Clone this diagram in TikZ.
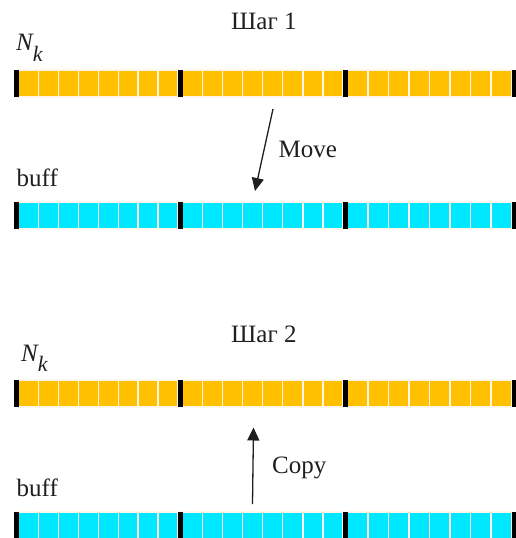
\documentclass[tikz,border=0pt]{standalone}
\usepackage{fontspec}
\setmainfont{Liberation Serif}
\newfontfamily\lserif{Liberation Serif}
\usetikzlibrary{arrows.meta}
\definecolor{barorange}{HTML}{FFC000}
\definecolor{barcyan}{HTML}{00E8FF}
\newcommand\drawcellbar[2]{%
  \foreach \a/\b in {14/178,178/343,343/511.5}{%
    \pgfmathsetmacro\w{(\b-\a-4.5)/8}%
    \foreach \i in {0,...,7}{%
      \filldraw[cellbox, fill=#2] ({\a+4.5+\i*\w},#1) rectangle ++(\w,27);
    }%
    \fill[marker] (\a,#1) rectangle ++(4.5,27);
  }%
  \fill[marker] (511.5,#1) rectangle (516,#1+27);
}
\begin{document}
\begin{tikzpicture}[x=1pt,y=-1pt,
  cellbox/.style={draw=white!92!orange, line width=1.3pt},
  marker/.style={black},
  lbl/.style={font={\lserif\fontsize{25}{25}\selectfont}, inner sep=0pt, anchor=base west, text=black!88},
  conn/.style={line width=1.3pt, black!88, -{Triangle[length=13pt,width=12pt]}}]
\useasboundingbox (0,0) rectangle (516,538);
\drawcellbar{70}{barorange}
\drawcellbar{202}{barcyan}
\drawcellbar{380}{barorange}
\drawcellbar{512}{barcyan}
\node[lbl] (step1) at (231,29.3) {Шаг 1};
\node[lbl] (step2) at (231,342) {Шаг 2};
\node[lbl] (nk1) at (16,50) {\itshape N\raisebox{-11pt}{\fontsize{22}{22}\selectfont k}};
\node[lbl] (nk2) at (21,361.7) {\itshape N\raisebox{-10pt}{\fontsize{22}{22}\selectfont k}};
\node[lbl] (buff1) at (16.5,186) {buff};
\node[lbl] (buff2) at (16.5,496) {buff};
\node[lbl] (move) at (278.5,157.3) {Move};
\node[lbl] (copy) at (272,473.3) {Copy};
\coordinate (mvs) at (273,109);
\coordinate (mve) at (255,191);
\coordinate (cps) at (252.5,504);
\coordinate (cpe) at (253.5,427.5);
\draw[conn] (mvs) -- (mve);
\draw[conn] (cps) -- (cpe);
\end{tikzpicture}
\end{document}
